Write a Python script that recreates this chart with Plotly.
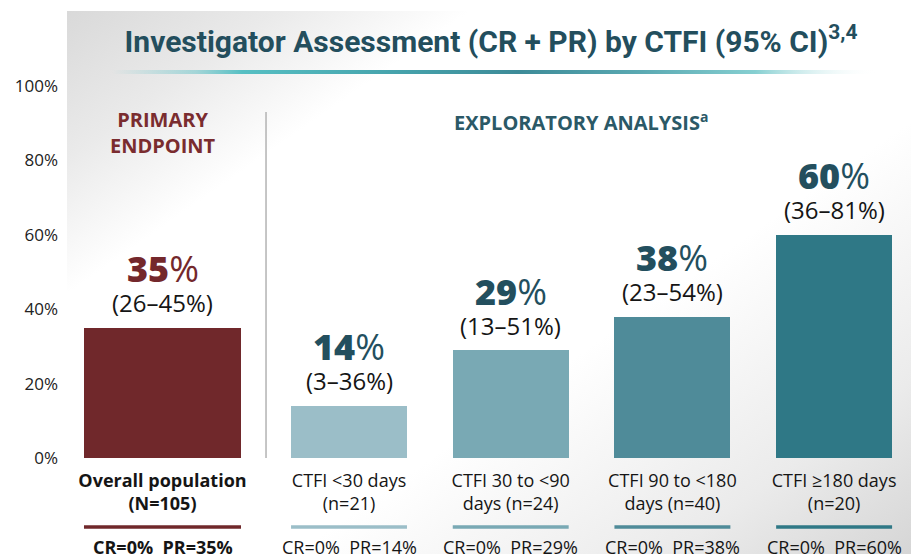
import base64
import plotly.graph_objects as go

# ---------------- data ----------------
categories = [
    "<b>Overall population</b><br><b>(N=105)</b>",
    "CTFI &lt;30 days<br>(n=21)",
    "CTFI 30 to &lt;90<br>days (n=24)",
    "CTFI 90 to &lt;180<br>days (n=40)",
    "CTFI ≥180 days<br>(n=20)",
]
orr_values = [35, 14, 29, 38, 60]
ci_low = [26, 3, 13, 23, 36]
ci_high = [45, 36, 51, 54, 81]
cr_values = [0, 0, 0, 0, 0]
pr_values = [35, 14, 29, 38, 60]
y_ticks = [0, 20, 40, 60, 80, 100]
y_tick_labels = [f"{t}%" for t in y_ticks]

# ---------------- style ----------------
bar_colors = ["#70282b", "#9bbec8", "#79a9b4", "#4f8b99", "#2f7886"]
num_colors = ["#74282c", "#234f5e", "#234f5e", "#234f5e", "#234f5e"]
FONT = "Open Sans"
W, H = 911, 554
ML, MB = 62, 96
PLOT_H = H - MB
GAP = 0.1535
widths = [0.971] + [0.717] * 4
positions = [0.0] + [i + GAP for i in range(1, len(orr_values))]
px_per_pct = 3.72
y_top = PLOT_H / px_per_pct
x_range = [-0.6215, 4.629]


def paper_y(py):
    return (PLOT_H - py) / PLOT_H


# background svg (gradient panel + title underline)
svg = f'''<svg xmlns="http://www.w3.org/2000/svg" width="{W}" height="{H}" viewBox="0 0 {W} {H}" preserveAspectRatio="none">
<defs>
<linearGradient id="bg" gradientUnits="userSpaceOnUse" x1="67" y1="11" x2="600" y2="770">
<stop offset="0" stop-color="#d9d9d9"/>
<stop offset="0.13" stop-color="#eaeaea"/>
<stop offset="0.25" stop-color="#ffffff"/>
<stop offset="0.62" stop-color="#ffffff"/>
<stop offset="0.85" stop-color="#ebebeb"/>
<stop offset="1" stop-color="#d6d6d6"/>
</linearGradient>
<linearGradient id="ul" x1="0" y1="0" x2="1" y2="0">
<stop offset="0" stop-color="#5bbfc4" stop-opacity="0"/>
<stop offset="0.11" stop-color="#5bbfc4" stop-opacity="0.5"/>
<stop offset="0.17" stop-color="#56bfc3"/>
<stop offset="0.37" stop-color="#46a3ac"/>
<stop offset="0.53" stop-color="#3d8b98"/>
<stop offset="0.69" stop-color="#5aa9b2"/>
<stop offset="0.84" stop-color="#86cfd1"/>
<stop offset="1" stop-color="#ffffff" stop-opacity="0"/>
</linearGradient>
</defs>
<rect x="67" y="11" width="844" height="543" fill="url(#bg)"/>
<rect x="112" y="70" width="766" height="4" fill="url(#ul)"/>
</svg>'''
svg_uri = "data:image/svg+xml;base64," + base64.b64encode(svg.encode("utf-8")).decode("ascii")

fig = go.Figure()
fig.add_trace(go.Bar(
    x=positions, y=orr_values, width=widths,
    marker=dict(color=bar_colors, line=dict(width=0)),
    hoverinfo="skip", showlegend=False,
))

annotations = []
shapes = []
for i, v in enumerate(orr_values):
    annotations.append(dict(
        x=positions[i], y=v, xref="x", yref="y", yshift=59, yanchor="middle",
        text=f"<span style='font-weight:800'>{v}</span>%", showarrow=False,
        font=dict(family=FONT, size=36, color=num_colors[i]),
    ))
    annotations.append(dict(
        x=positions[i], y=v, xref="x", yref="y", yshift=25, yanchor="middle",
        text=f"({ci_low[i]}–{ci_high[i]}%)", showarrow=False,
        font=dict(family=FONT, size=24, color="#151515"),
    ))
    crpr = f"CR={cr_values[i]}%\u00a0\u00a0PR={pr_values[i]}%"
    if i == 0:
        crpr = f"<b>{crpr}</b>"
    annotations.append(dict(
        x=positions[i], y=0, xref="x", yref="y", yshift=-89, yanchor="middle",
        text=crpr, showarrow=False,
        font=dict(family=FONT, size=18, color="#151515"),
    ))
    shapes.append(dict(
        type="line", xref="x", yref="paper",
        x0=positions[i] - widths[i] / 2, x1=positions[i] + widths[i] / 2,
        y0=paper_y(527), y1=paper_y(527), line=dict(color=bar_colors[i], width=3.5),
    ))

# divider between primary and exploratory
div_x = ((positions[0] + widths[0] / 2) + (positions[1] - widths[1] / 2)) / 2
shapes.append(dict(type="line", xref="x", yref="y", x0=div_x, x1=div_x,
                   y0=0, y1=93, line=dict(color="#b3b3b3", width=1.5)))

annotations.append(dict(
    x=positions[0], y=paper_y(132), xref="x", yref="paper", yanchor="middle",
    text="<b>PRIMARY<br>ENDPOINT</b>", showarrow=False,
    font=dict(family=FONT, size=20, color="#7a2c2f"),
))
annotations.append(dict(
    x=(positions[1] + positions[-1]) / 2 - 0.065, y=paper_y(122), xref="x", yref="paper",
    yanchor="middle",
    text="<b>EXPLORATORY ANALYSIS<sup>a</sup></b>", showarrow=False,
    font=dict(family=FONT, size=20, color="#2b5967"),
))

fig.update_layout(
    width=W, height=H,
    margin=dict(l=ML, r=0, t=0, b=MB, pad=0),
    paper_bgcolor="white", plot_bgcolor="rgba(0,0,0,0)",
    title=dict(
        text="<b>Investigator Assessment (CR + PR) by CTFI (95% CI)<sup>3,4</sup></b>",
        x=491 / W, y=1 - 41 / H, xref="container", yref="container",
        xanchor="center", yanchor="middle",
        font=dict(family="Roboto", size=30, color="#234e5d"),
    ),
    xaxis=dict(
        range=x_range, tickvals=positions, ticktext=categories,
        showgrid=False, zeroline=False, showline=False, ticks="",
        tickfont=dict(family=FONT, size=18, color="#151515"),
        ticklabelstandoff=10,
    ),
    yaxis=dict(
        range=[0, y_top], tickvals=y_ticks, ticktext=y_tick_labels,
        showgrid=False, zeroline=False, showline=False, ticks="",
        tickfont=dict(family=FONT, size=17, color="#222222"),
        ticklabelstandoff=3,
    ),
    images=[dict(
        source=svg_uri, xref="paper", yref="paper",
        x=-ML / (W - ML), y=1, sizex=W / (W - ML), sizey=H / PLOT_H,
        xanchor="left", yanchor="top", sizing="stretch", layer="below",
    )],
    annotations=annotations,
    shapes=shapes,
    bargap=0,
)

fig.write_html("out.html", config={"displayModeBar": False},
               post_script="document.body.style.margin='0';")
